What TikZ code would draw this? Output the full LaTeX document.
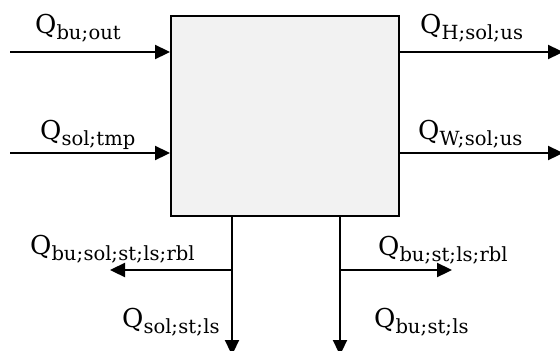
\documentclass[tikz,border=0pt]{standalone}
\usepackage{fontspec}
\setmainfont{DejaVu Serif}
\usetikzlibrary{arrows.meta}
\newcommand{\qlab}[1]{{\fontsize{26}{26}\selectfont Q}\raisebox{-6pt}{\fontsize{19.5}{19.5}\selectfont #1}}
\newcommand{\sm}{;\kern0.4pt}
\begin{document}
\begin{tikzpicture}[x=1pt,y=-1pt,
  flow/.style={line width=2.3pt,-{Triangle[length=15pt,width=14pt]}},
  lbl/.style={anchor=base west,inner sep=0pt}]
\useasboundingbox (0,0) rectangle (560,351);
\node[draw,line width=1.5pt,fill=black!5,minimum width=228pt,minimum height=200pt,anchor=north west,inner sep=0pt] (box) at (170,15) {};
\coordinate (l1) at (10,52);
\coordinate (l2) at (10,153);
\coordinate (r1) at (563,52);
\coordinate (r2) at (563,153);
\coordinate (b1) at (232,355);
\coordinate (b2) at (340,355);
\coordinate (j1) at (232,270);
\coordinate (j2) at (340,270);
\coordinate (e1) at (110,270);
\coordinate (e2) at (452,270);
\draw[flow] (l1) -- (l1 -| box.west);
\draw[flow] (l2) -- (l2 -| box.west);
\draw[flow] (r1 -| box.east) -- (r1);
\draw[flow] (r2 -| box.east) -- (r2);
\draw[flow] (b1 |- box.south) -- (b1);
\draw[flow] (b2 |- box.south) -- (b2);
\draw[flow] (j1) -- (e1);
\draw[flow] (j2) -- (e2);
\node[lbl] (t1) at (35,33) {\qlab{bu\sm out}};
\node[lbl] (t2) at (40,139) {\qlab{sol\sm tmp}};
\node[lbl] (t3) at (420,33) {\qlab{H\sm sol\sm us}};
\node[lbl] (t4) at (418,139) {\qlab{W\sm sol\sm us}};
\node[lbl] (t5) at (30,254) {\qlab{bu\sm sol\sm st\sm ls\sm rbl}};
\node[lbl] (t6) at (122,327) {\qlab{sol\sm st\sm ls}};
\node[lbl] (t7) at (378,255) {\qlab{bu\sm st\sm ls\sm rbl}};
\node[lbl] (t8) at (374,327) {\qlab{bu\sm st\sm ls}};
\end{tikzpicture}
\end{document}
